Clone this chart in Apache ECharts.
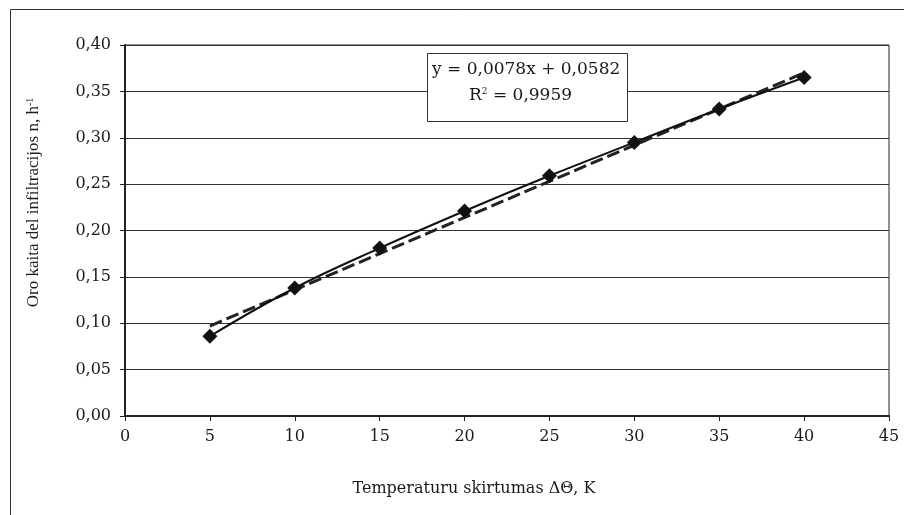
<!DOCTYPE html>
<html><head><meta charset="utf-8">
<script src="https://cdn.jsdelivr.net/npm/echarts@6/dist/echarts.min.js"></script>
<style>html,body{margin:0;padding:0;background:#fff}#c{width:904px;height:515px}</style>
</head><body><div id="c"></div>
<script>
const xValues = [5, 10, 15, 20, 25, 30, 35, 40];
const yValues = [0.086, 0.138, 0.181, 0.221, 0.259, 0.295, 0.331, 0.365];
const trendX = [5, 40];
const trendY = [0.097, 0.370];
const eqLine1 = 'y = 0,0078x + 0,0582';
const eqLine2 = '0,9959';
const xName = 'Temperaturu skirtumas ΔΘ, K';
const yName = 'Oro kaita del infiltracijos n, h';

const FONT = 'DejaVu Serif';
const VFONT = 'Liberation Serif';
const TXT = '#1a1a1a';
const chart = echarts.init(document.getElementById('c'), null, {renderer: 'canvas'});
chart.setOption({
  animation: false,
  backgroundColor: '#fff',
  grid: {left: 125, right: 15, top: 45, bottom: 99, show: true, borderColor: '#222', borderWidth: 1},
  xAxis: {
    type: 'value', min: 0, max: 45, interval: 5,
    name: xName, nameLocation: 'middle', nameGap: 65,
    nameTextStyle: {fontFamily: FONT, fontSize: 16, color: TXT, padding: [0, 66, 0, 0]},
    axisLine: {show: true, onZero: false, lineStyle: {color: '#222', width: 2}},
    axisTick: {show: true, length: 5, lineStyle: {color: '#222', width: 1}},
    axisLabel: {fontFamily: FONT, fontSize: 16, color: TXT, margin: 13},
    splitLine: {show: false}
  },
  yAxis: {
    type: 'value', min: 0, max: 0.4, interval: 0.05,
    name: '{a|' + yName + '}{s|-1}', nameLocation: 'middle', nameGap: 82, nameRotate: 90,
    nameTextStyle: {fontFamily: VFONT, fontSize: 17, color: TXT, padding: [0, 0, 0, 56],
      rich: {a: {fontFamily: VFONT, fontSize: 17, color: TXT}, s: {fontFamily: VFONT, fontSize: 10, color: TXT, verticalAlign: 'top', padding: [0, 0, 8, 0]}}},
    axisLine: {show: true, lineStyle: {color: '#222', width: 2}},
    axisTick: {show: true, length: 5, lineStyle: {color: '#222', width: 1}},
    axisLabel: {fontFamily: FONT, fontSize: 16, color: TXT, margin: 14,
      formatter: v => v.toFixed(2).replace('.', ',')},
    splitLine: {show: true, lineStyle: {color: '#333', width: 1}}
  },
  series: [
    {
      type: 'line', name: 'data', data: xValues.map((x, i) => [x, yValues[i]]),
      smooth: 0.4, symbol: 'diamond', symbolSize: 15, z: 4,
      itemStyle: {color: '#111'}, lineStyle: {color: '#111', width: 2}
    },
    {
      type: 'line', name: 'trend', data: trendX.map((x, i) => [x, trendY[i]]),
      symbol: 'none', z: 3,
      lineStyle: {color: '#222', width: 3, type: [13, 5]}
    }
  ],
  graphic: [
    {type: 'rect', left: 8, top: 7, shape: {width: 920, height: 530}, style: {fill: 'none', stroke: '#333', lineWidth: 1}, silent: true, z: -1},
    {type: 'rect', left: 427, top: 53, shape: {width: 200, height: 68}, style: {fill: '#fff', stroke: '#333', lineWidth: 1}, z: 10},
    {type: 'text', left: 432, top: 61, z: 11, style: {text: eqLine1, font: '17px "DejaVu Serif"', fill: TXT}},
    {type: 'text', left: 469, top: 87, z: 11, style: {text: '{a|R}{s|2}{a| = ' + eqLine2 + '}', fill: TXT,
      rich: {a: {fontFamily: FONT, fontSize: 17, color: TXT}, s: {fontFamily: FONT, fontSize: 9, color: TXT, verticalAlign: 'top', padding: [0, 0, 8, 0]}}}}
  ]
});
</script></body></html>
